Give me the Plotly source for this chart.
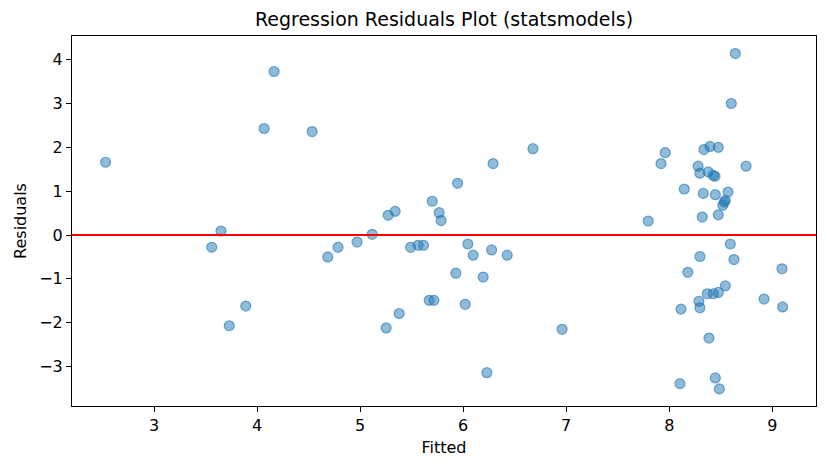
import plotly.graph_objects as go

# fitted values and residuals
fitted = [
    2.53, 4.165, 4.068, 4.534, 3.65, 3.56, 3.89, 3.73, 4.686, 4.786, 4.97,
    5.117, 5.272, 5.34, 5.70, 5.946, 6.29, 6.677, 5.767, 5.786, 5.49, 5.563,
    5.615, 6.045, 6.097, 6.276, 6.427, 5.929, 6.194, 5.67, 5.716, 6.02, 5.379,
    5.253, 6.96, 6.23,
    8.641, 8.602, 7.961, 7.92, 8.337, 8.395, 8.476, 8.28, 8.297, 8.378, 8.427,
    8.444, 8.745, 8.146, 8.33, 8.447, 8.57, 8.544, 8.534, 8.52, 8.476, 8.32,
    7.796, 8.592, 8.298, 8.628, 9.094, 8.18, 8.544, 8.476, 8.427, 8.369, 8.288,
    8.297, 8.114, 8.92, 9.10, 8.385, 8.104, 8.447, 8.486,
]
residuals = [
    1.66, 3.73, 2.43, 2.36, 0.09, -0.28, -1.62, -2.07, -0.50, -0.28, -0.16,
    0.016, 0.45, 0.54, 0.77, 1.18, 1.63, 1.97, 0.51, 0.33, -0.28, -0.235,
    -0.235, -0.205, -0.46, -0.34, -0.46, -0.87, -0.96, -1.49, -1.49, -1.58, -1.79,
    -2.12, -2.15, -3.14,
    4.14, 3.0, 1.88, 1.63, 1.95, 2.02, 2.0, 1.57, 1.41, 1.44, 1.36,
    1.34, 1.57, 1.05, 0.95, 0.92, 0.98, 0.79, 0.75, 0.68, 0.46, 0.41,
    0.32, -0.205, -0.49, -0.56, -0.77, -0.85, -1.16, -1.31, -1.34, -1.34, -1.51,
    -1.66, -1.69, -1.46, -1.64, -2.35, -3.39, -3.26, -3.51,
]

x_range = [2.204, 9.424]
y_range = [-3.90, 4.54]

fig = go.Figure()

fig.add_trace(go.Scatter(
    x=fitted, y=residuals, mode="markers",
    marker=dict(color="rgba(31,119,180,0.5)", size=10,
                line=dict(color="rgba(31,119,180,0.6)", width=1.2)),
    showlegend=False,
))

# horizontal zero line
fig.add_shape(type="line", xref="paper", yref="y", x0=0, x1=1, y0=0, y1=0,
              line=dict(color="red", width=2))

axis_style = dict(
    showline=True, mirror=True, linecolor="black", linewidth=1,
    ticks="outside", ticklen=5, tickwidth=1, tickcolor="black",
    showgrid=False, zeroline=False,
    tickfont=dict(size=16, color="black"),
)

fig.update_xaxes(range=x_range, dtick=1,
                 title=dict(text="Fitted", font=dict(size=16, color="black"), standoff=7),
                 **axis_style)
fig.update_yaxes(range=y_range, dtick=1,
                 title=dict(text="Residuals", font=dict(size=16, color="black"), standoff=8),
                 **axis_style)

# page body has an 8px margin, so the figure is sized and padded to fit
fig.update_layout(
    width=820, height=462,
    margin=dict(l=64, r=12, t=28, b=64),
    plot_bgcolor="white", paper_bgcolor="white",
    font=dict(family="DejaVu Sans", color="black"),
    title=dict(text="Regression Residuals Plot (statsmodels)", x=0.5, xanchor="center",
               xref="paper", yref="container", y=0.976, yanchor="middle",
               font=dict(size=19, color="black")),
)

fig.write_html("out.html")
